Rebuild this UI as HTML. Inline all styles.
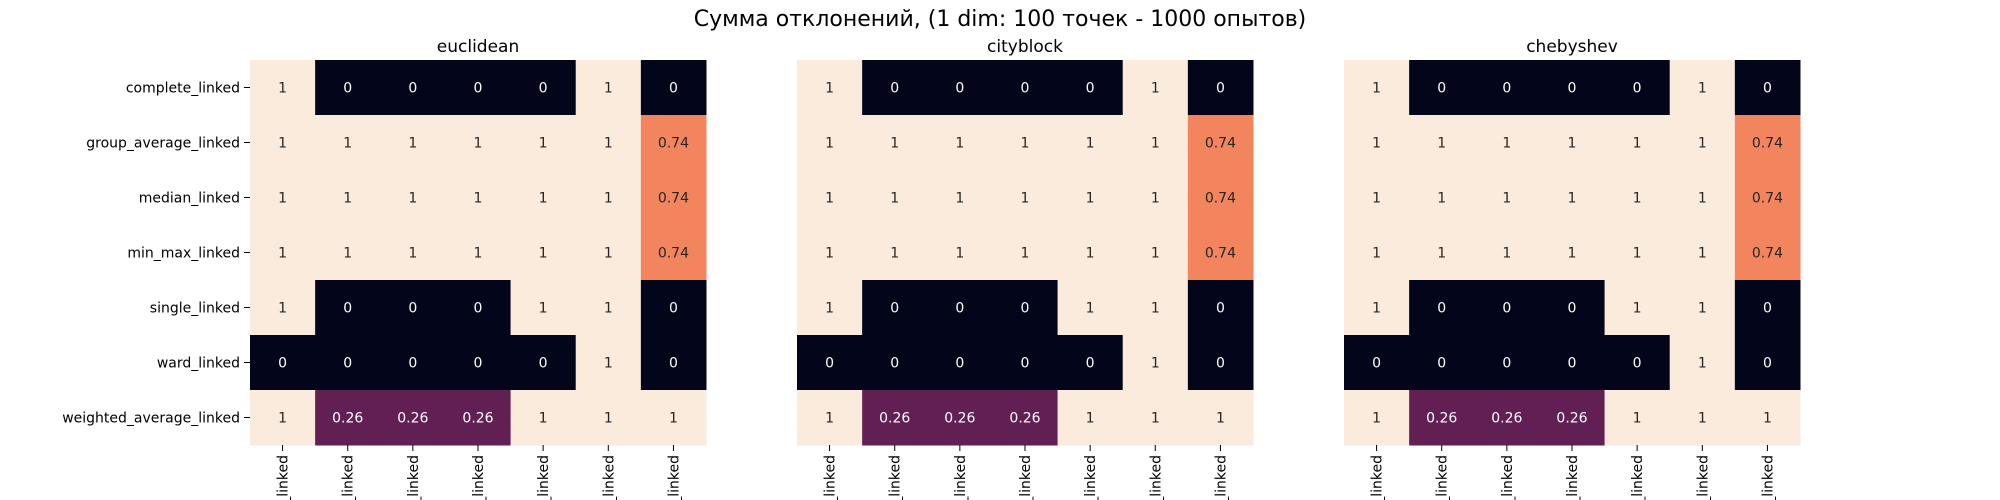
<!DOCTYPE html>
<html><head><meta charset="utf-8">
<style>
html,body{margin:0;padding:0;background:#fff;width:2000px;height:500px;overflow:hidden;}
svg{display:block;font-family:"DejaVu Sans","Liberation Sans",sans-serif;}
</style></head>
<body>
<svg id="chart" width="2000" height="500" xmlns="http://www.w3.org/2000/svg" style="overflow:hidden">
<text x="1000" y="26" font-size="22" text-anchor="middle" fill="#000">Сумма отклонений, (1 dim: 100 точек - 1000 опытов)</text>
</svg>
<script>
const rowLabels = ["complete_linked","group_average_linked","median_linked","min_max_linked","single_linked","ward_linked","weighted_average_linked"];
const colLabels = ["complete_linked","group_average_linked","median_linked","min_max_linked","single_linked","ward_linked","weighted_average_linked"];
const panelTitles = ["euclidean","cityblock","chebyshev"];
const valuesEuclidean = [[1,0,0,0,0,1,0],[1,1,1,1,1,1,0.74],[1,1,1,1,1,1,0.74],[1,1,1,1,1,1,0.74],[1,0,0,0,1,1,0],[0,0,0,0,0,1,0],[1,0.26,0.26,0.26,1,1,1]];
const valuesCityblock = [[1,0,0,0,0,1,0],[1,1,1,1,1,1,0.74],[1,1,1,1,1,1,0.74],[1,1,1,1,1,1,0.74],[1,0,0,0,1,1,0],[0,0,0,0,0,1,0],[1,0.26,0.26,0.26,1,1,1]];
const valuesChebyshev = [[1,0,0,0,0,1,0],[1,1,1,1,1,1,0.74],[1,1,1,1,1,1,0.74],[1,1,1,1,1,1,0.74],[1,0,0,0,1,1,0],[0,0,0,0,0,1,0],[1,0.26,0.26,0.26,1,1,1]];
const panelValues = [valuesEuclidean, valuesCityblock, valuesChebyshev];

const NS = "http://www.w3.org/2000/svg";
const svg = document.getElementById("chart");
const panelX = [250, 797, 1344];
const panelW = 456, top0 = 60, panelH = 385;

const stops = [[0,[3,5,26]],[0.26,[97,31,83]],[0.5,[180,30,80]],[0.74,[243,133,94]],[1,[250,235,221]]];
function color(v){
  for(let i=1;i<stops.length;i++){
    if(v<=stops[i][0]){
      const a=stops[i-1],b=stops[i];const t=(v-a[0])/(b[0]-a[0]);
      const c=a[1].map((x,k)=>Math.round(x+(b[1][k]-x)*t));
      return `rgb(${c[0]},${c[1]},${c[2]})`;
    }
  }
  return "rgb(250,235,221)";
}
function mk(tag, attrs){const e=document.createElementNS(NS,tag);for(const k in attrs)e.setAttribute(k,attrs[k]);return e;}

panelValues.forEach((vals,p)=>{
  const x0 = panelX[p];
  const cw = panelW/colLabels.length, ch = panelH/rowLabels.length;
  const xs = j => x0 + j*cw;
  const ys = i => top0 + i*ch;
  const g = mk("g",{});
  
  
  svg.appendChild(g);
  const t = mk("text",{x:x0+panelW/2,y:52,"font-size":"17","text-anchor":"middle",fill:"#000"});
  
  
  t.textContent = panelTitles[p];
  g.appendChild(t);
  vals.forEach((row,i)=>{
    row.forEach((v,j)=>{
      const r = mk("rect",{x:xs(j),y:ys(i),width:cw+0.5,height:ch+0.5,fill:color(v)});
      
      
      g.appendChild(r);
      const tx = mk("text",{x:xs(j)+cw/2,y:ys(i)+ch/2+5,"font-size":"14","text-anchor":"middle",fill:v>0.5?"#262626":"#ffffff"});
      
      
      tx.textContent = String(v);
      g.appendChild(tx);
    });
  });
  if(p===0){
    rowLabels.forEach((lab,i)=>{
      const yy = ys(i)+ch/2;
      g.appendChild(mk("line",{x1:x0-6,x2:x0,y1:yy,y2:yy,stroke:"#000","stroke-width":"1"}));
      const tl = mk("text",{x:x0-10,y:yy+5,"font-size":"14","text-anchor":"end",fill:"#000"});
      
      
      tl.textContent = lab;
      g.appendChild(tl);
    });
  }
  colLabels.forEach((lab,j)=>{
    const xx = xs(j)+cw/2;
    g.appendChild(mk("line",{x1:xx,x2:xx,y1:top0+panelH,y2:top0+panelH+6,stroke:"#000","stroke-width":"1"}));
    const tl = mk("text",{x:0,y:0,"font-size":"14","text-anchor":"end",fill:"#000",transform:`translate(${xx+5},${top0+panelH+10}) rotate(-90)`});
    
    
    tl.textContent = lab;
    g.appendChild(tl);
  });
});
</script>
</body></html>
